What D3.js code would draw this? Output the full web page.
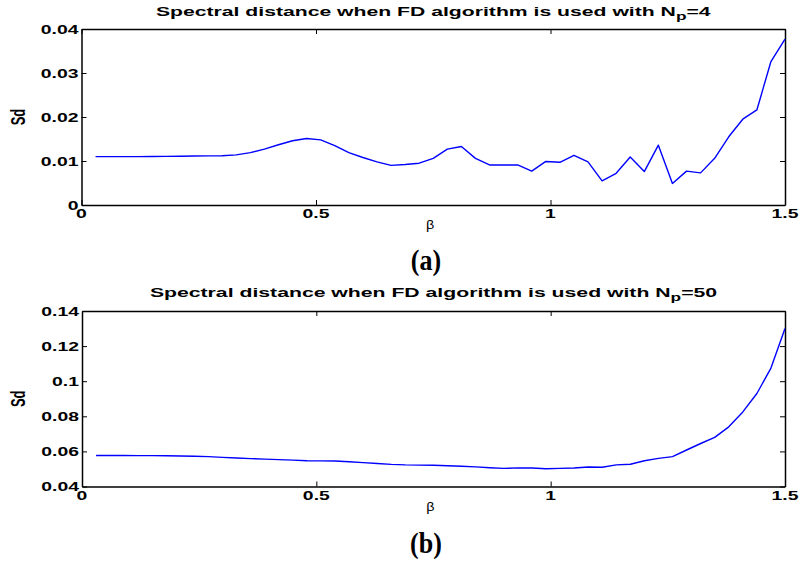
<!DOCTYPE html>
<html><head><meta charset="utf-8">
<script src="https://cdn.jsdelivr.net/npm/d3@7"></script>
<style>
html,body{margin:0;padding:0;background:#fff;}
svg{display:block;}
</style></head>
<body>
<svg id="c" width="802" height="565"></svg>
<script>
// ---------- data ----------
const beta = [0.03,0.06,0.09,0.12,0.15,0.18,0.21,0.24,0.27,0.30,0.33,0.36,0.39,0.42,0.45,0.48,0.51,0.54,0.57,0.60,0.63,0.66,0.69,0.72,0.75,0.78,0.81,0.84,0.87,0.90,0.93,0.96,0.99,1.02,1.05,1.08,1.11,1.14,1.17,1.20,1.23,1.26,1.29,1.32,1.35,1.38,1.41,1.44,1.47,1.50];
const sdNp4 = [0.0110,0.0110,0.0110,0.0110,0.01102,0.01105,0.01108,0.01112,0.01116,0.0112,0.0114,0.0119,0.0127,0.0137,0.0146,0.0151,0.0148,0.0135,0.0119,0.0108,0.0098,0.0090,0.0092,0.0095,0.0106,0.0127,0.0133,0.0106,0.0091,0.0091,0.0091,0.0077,0.0099,0.0097,0.0113,0.0098,0.0055,0.0072,0.0109,0.0076,0.0136,0.0049,0.0077,0.0073,0.0106,0.0155,0.0195,0.0216,0.0326,0.0377];
const sdNp50 = [0.0577,0.0577,0.0577,0.0576,0.0576,0.0575,0.0574,0.0572,0.0570,0.0566,0.0562,0.0559,0.0556,0.0553,0.0550,0.0547,0.0546,0.0545,0.0541,0.0536,0.0531,0.0526,0.0523,0.0522,0.0521,0.0518,0.0515,0.0512,0.0507,0.0503,0.0506,0.0505,0.0501,0.0503,0.0505,0.0511,0.0510,0.0523,0.0527,0.0547,0.0560,0.0570,0.0608,0.0645,0.0680,0.0740,0.0825,0.0930,0.1075,0.1300];
const xTicks = [0,0.5,1,1.5];
const xTickLabels = ["0","0.5","1","1.5"];
const yTicksA = [0,0.01,0.02,0.03,0.04];
const yTickLabelsA = ["0","0.01","0.02","0.03","0.04"];
const yTicksB = [0.04,0.06,0.08,0.1,0.12,0.14];
const yTickLabelsB = ["0.04","0.06","0.08","0.1","0.12","0.14"];
const titleA = {main:"Spectral distance when FD algorithm is used with N", sub:"p", tail:"=4"};
const titleB = {main:"Spectral distance when FD algorithm is used with N", sub:"p", tail:"=50"};

// ---------- drawing ----------
const svg = d3.select("#c");
const SX = 1.55; // horizontal stretch of the text in the original figure
const boldFont = "'Liberation Sans', Arial, Helvetica, sans-serif";

function panel(cfg){
  const {L,R,T,B,values,yDomain,yTicks,yLabels,title,titleW,titleY,caption,capY} = cfg;
  const x = d3.scaleLinear().domain([0,1.5]).range([L,R]);
  const y = d3.scaleLinear().domain(yDomain).range([B,T]);
  const g = svg.append("g");

  const mk = (axis, tr) => {
    const a = g.append("g").attr("transform", tr).call(axis);
    a.selectAll("text").remove();
    a.select(".domain").attr("stroke","#000").attr("stroke-width",1.5);
    a.selectAll(".tick line").attr("stroke","#000").attr("stroke-width",1);
    return a;
  };
  mk(d3.axisBottom(x).tickValues(xTicks).tickSize(-5).tickSizeOuter(0), `translate(0,${B})`);
  mk(d3.axisTop(x).tickValues(xTicks).tickSize(-5).tickSizeOuter(0), `translate(0,${T})`);
  mk(d3.axisLeft(y).tickValues(yTicks).tickSize(-5).tickSizeOuter(0), `translate(${L},0)`);
  mk(d3.axisRight(y).tickValues(yTicks).tickSize(-5).tickSizeOuter(0), `translate(${R},0)`);

  xTicks.forEach((v,i)=>{
    g.append("text").attr("transform",`translate(${x(v)},${B+13}) scale(${SX},1)`)
      .attr("text-anchor","middle").attr("font-family",boldFont).attr("font-weight","bold")
      .attr("font-size",12.5).text(xTickLabels[i]);
  });
  yTicks.forEach((v,i)=>{
    g.append("text").attr("transform",`translate(${L-3},${y(v)+4.5}) scale(${SX},1)`)
      .attr("text-anchor","end").attr("font-family",boldFont).attr("font-weight","bold")
      .attr("font-size",12.5).text(yLabels[i]);
  });

  g.append("text").attr("transform",`translate(${(L+R)/2-3},${B+24}) scale(1.2,1)`)
    .attr("text-anchor","middle").attr("font-family","'Liberation Sans', Arial, sans-serif")
    .attr("font-size",12).text("β");
  g.append("text").attr("transform",`translate(${25},${(T+B)/2}) scale(${SX},1) rotate(-90)`)
    .attr("text-anchor","middle").attr("font-family",boldFont).attr("font-weight","bold")
    .attr("font-size",13).text("Sd");

  const tg = g.append("g");
  const tt = tg.append("text").attr("text-anchor","middle").attr("font-family",boldFont)
    .attr("font-weight","bold").attr("font-size",13.5);
  tt.append("tspan").text(title.main);
  tt.append("tspan").attr("dy",4).attr("font-size",11).text(title.sub);
  tt.append("tspan").attr("dy",-4).text(title.tail);
  const w = tt.node().getBBox().width;
  tg.attr("transform",`translate(${(L+R)/2},${titleY}) scale(${titleW/w},1)`);

  g.append("text").attr("transform",`translate(426,${capY}) scale(1,1.1)`).attr("text-anchor","middle")
    .attr("font-family","'Liberation Serif', 'Times New Roman', serif").attr("font-weight","bold")
    .attr("font-size",26).text(caption);

  const line = d3.line().x((d,i)=>x(beta[i])).y(d=>y(d));
  g.append("path").datum(values).attr("d",line).attr("fill","none")
    .attr("stroke","#0000ff").attr("stroke-width",1.4).attr("stroke-linejoin","round");
}

panel({L:81.5,R:785,T:29,B:205,values:sdNp4,yDomain:[0,0.04],yTicks:yTicksA,yLabels:yTickLabelsA,
  title:titleA,titleW:556,titleY:16,caption:"(a)",capY:270});
panel({L:82,R:785,T:311,B:486.5,values:sdNp50,yDomain:[0.04,0.14],yTicks:yTicksB,yLabels:yTickLabelsB,
  title:titleB,titleW:568,titleY:297,caption:"(b)",capY:553});
</script>
</body></html>
